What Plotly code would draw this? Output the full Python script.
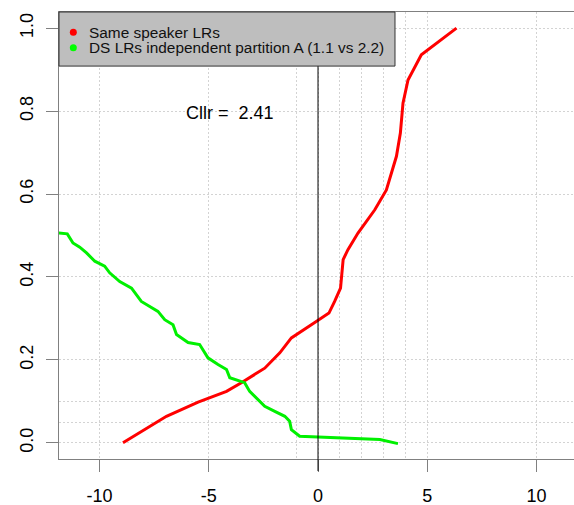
import plotly.graph_objects as go

# ---- data ----
red_name = "Same speaker LRs"
red_x = [-8.93, -6.94, -5.49, -4.19, -3.51, -2.44, -1.75, -1.22, -0.15, 0.0, 0.5, 0.76,
         1.03, 1.15, 1.37, 1.83, 2.6, 3.13, 3.59, 3.77, 3.89, 4.12, 4.73, 6.34]
red_y = [0.0, 0.064, 0.098, 0.124, 0.145, 0.18, 0.217, 0.253, 0.29, 0.295, 0.313, 0.341,
         0.373, 0.442, 0.466, 0.506, 0.562, 0.61, 0.691, 0.747, 0.819, 0.875, 0.936, 1.0]

green_name = "DS LRs independent partition A (1.1 vs 2.2)"
green_x = [-12.0, -11.48, -11.22, -10.91, -10.6, -10.22, -9.77, -9.54, -9.08, -8.54, -8.09,
           -7.33, -7.02, -6.64, -6.48, -5.95, -5.42, -5.04, -4.58, -4.19, -4.04, -3.36,
           -3.13, -2.44, -1.98, -1.52, -1.3, -1.22, -0.84, -0.15, 0.99, 2.83, 3.66]
green_y = [0.507, 0.504, 0.482, 0.472, 0.458, 0.438, 0.426, 0.41, 0.389, 0.373, 0.341,
           0.317, 0.297, 0.285, 0.261, 0.242, 0.237, 0.205, 0.189, 0.177, 0.157, 0.145,
           0.124, 0.088, 0.076, 0.064, 0.052, 0.032, 0.016, 0.0145, 0.012, 0.008, -0.002]

x_ticks = [-10, -5, 0, 5, 10]
x_minor_grid = [-1, 1, 2, 3, 4]
y_ticks = [0.0, 0.2, 0.4, 0.6, 0.8, 1.0]
y_tick_labels = ["0.0", "0.2", "0.4", "0.6", "0.8", "1.0"]
y_minor_grid = [0.05, 0.1]
cllr_text = "Cllr =\u00a0\u00a02.41"
cllr_pos = (-4.04, 0.795)

FONT = "Liberation Sans, Arial, sans-serif"
RED = "#FF0000"
GREEN = "#00F000"
AX = "#808080"
GRID = "#D3D3D3"
GDASH = "2px,2px"

fig = go.Figure()
fig.add_trace(go.Scatter(x=red_x, y=red_y, mode="lines", line=dict(color=RED, width=3),
                         showlegend=False))
fig.add_trace(go.Scatter(x=green_x, y=green_y, mode="lines", line=dict(color=GREEN, width=3),
                         showlegend=False))

# vertical reference line at 0 (extends into tick area)
fig.add_shape(type="line", xref="x", yref="paper", x0=0, x1=0, y0=-0.027, y1=1,
              line=dict(color="black", width=1), layer="above")

# manual legend box
fig.add_shape(type="rect", xref="paper", yref="paper", x0=0, x1=0.6524, y0=0.879, y1=1,
              fillcolor="#BEBEBE", line=dict(color="#333333", width=1), layer="above")
leg_rows = [(red_name, RED, 0.9546), (green_name, "#00FF00", 0.9201)]
for name, col, yy in leg_rows:
    fig.add_shape(type="circle", xref="paper", yref="paper", xsizemode="pixel",
                  ysizemode="pixel", xanchor=0.0278, yanchor=yy, x0=-3.5, x1=3.5,
                  y0=-3.5, y1=3.5, fillcolor=col, line=dict(width=0), layer="above")
    fig.add_annotation(xref="paper", yref="paper", x=0.055, y=yy, text=name,
                       showarrow=False, xanchor="left", yanchor="middle",
                       font=dict(family=FONT, size=15.4, color="#111111"))

fig.add_annotation(x=cllr_pos[0], y=cllr_pos[1], text=cllr_text, showarrow=False,
                   xanchor="center", yanchor="middle",
                   font=dict(family=FONT, size=18, color="black"))

fig.update_layout(
    width=574, height=505,
    margin=dict(l=59, r=0, t=12, b=46),
    paper_bgcolor="white", plot_bgcolor="white",
    font=dict(family=FONT, size=18, color="black"),
    showlegend=False,
)
fig.update_xaxes(
    range=[-11.86, 11.72], tickvals=x_ticks, ticktext=[str(v) for v in x_ticks],
    showline=True, linecolor=AX, linewidth=1, mirror=True,
    ticks="outside", ticklen=12, tickcolor=AX, tickwidth=1,
    showgrid=True, gridcolor=GRID, griddash=GDASH, gridwidth=1,
    minor=dict(tickvals=x_minor_grid, showgrid=True, gridcolor=GRID,
               griddash=GDASH, gridwidth=1, ticks=""),
    zeroline=False, tickfont=dict(size=18), ticklabelstandoff=8, automargin=False,
)
fig.update_yaxes(
    range=[-0.039, 1.039], tickvals=y_ticks, ticktext=y_tick_labels,
    showline=True, linecolor=AX, linewidth=1,
    ticks="outside", ticklen=12, tickcolor=AX, tickwidth=1,
    showgrid=True, gridcolor=GRID, griddash=GDASH, gridwidth=1,
    minor=dict(tickvals=y_minor_grid, showgrid=True, gridcolor=GRID,
               griddash=GDASH, gridwidth=1, ticks=""),
    zeroline=False, tickangle=-90, tickfont=dict(size=18), ticklabelstandoff=6,
    automargin=False,
)

fig.write_html("out.html")
